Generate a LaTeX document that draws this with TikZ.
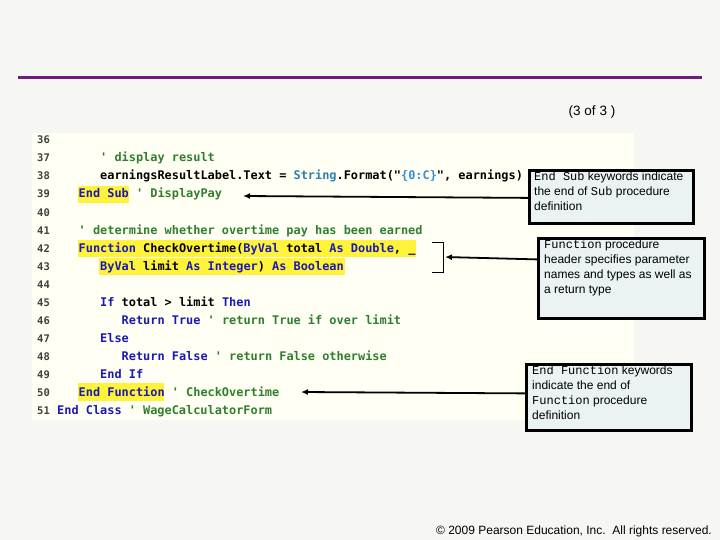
\documentclass[tikz,border=0pt]{standalone}
\usepackage{fontspec}
\setmainfont{Liberation Sans}
\newfontfamily\codefont{DejaVu Sans Mono}
\newfontfamily\cmono{Liberation Mono}
\usetikzlibrary{arrows.meta}
\definecolor{kw}{HTML}{1A1AB0}
\definecolor{cm}{HTML}{2F7F2F}
\definecolor{st}{HTML}{3A8FD0}
\definecolor{cls}{HTML}{2B7FAF}
\definecolor{hl}{HTML}{FFF23A}
\definecolor{panel}{HTML}{FFFFF3}
\definecolor{page}{HTML}{F6F6F3}
\definecolor{boxfill}{HTML}{EAF2F4}
\definecolor{rule}{HTML}{6E1E78}
\newcommand{\K}[1]{\textcolor{kw}{#1}}
\newcommand{\C}[1]{\textcolor{cm}{#1}}
\begin{document}
\begin{tikzpicture}[x=1pt,y=-1pt,
  code/.style={anchor=base west,inner sep=0,font=\codefont\bfseries\fontsize{11.9}{12}\selectfont},
  num/.style={anchor=base west,inner sep=0,text=black!75,font=\codefont\bfseries\fontsize{10.5}{12}\selectfont},
  callout/.style={draw=black,line width=2.8pt,fill=boxfill,anchor=north west,inner sep=0},
  ctext/.style={anchor=north west,align=left,inner sep=0,font=\fontsize{12}{14.8}\selectfont},
  arr/.style={line width=1.8pt,-{Latex[length=7pt,width=6pt]}}]
\useasboundingbox (0,0) rectangle (720,540);
\fill[page] (0,0) rectangle (720,540);
\draw[rule,line width=3pt] (18,78) -- (702,78);
\node (title) at (592,112) {\fontsize{13.5}{16}\selectfont (3 of 3 )};
\fill[panel] (32,133) rectangle (634,420);
% highlights
\fill[hl] (78,186) rectangle (129,203);
\fill[hl] (78,240) rectangle (416,257);
\fill[hl] (99,258) rectangle (345,275);
\fill[hl] (78,383) rectangle (164,401);
% line numbers
\foreach \n [count=\i from 0] in {36,...,51} {
  \node[num] (n\n) at (37,144+18*\i) {\n};
}
\def\cw{7.17}
\node[code] (l37) at (57+6*\cw,162) {\C{' display result}};
\node[code] (l38) at (57+6*\cw,180) {earningsResultLabel.Text = \textcolor{cls}{String}.Format("\textcolor{st}{\{0:C\}}", earnings)};
\node[code] (l39) at (57+3*\cw,198) {\K{End Sub} \C{' DisplayPay}};
\node[code] (l41) at (57+3*\cw,234) {\C{' determine whether overtime pay has been earned}};
\node[code] (l42) at (57+3*\cw,252) {\K{Function} CheckOvertime(\K{ByVal} total \K{As} \K{Double}, \_};
\node[code] (l43) at (57+6*\cw,270) {\K{ByVal} limit \K{As} \K{Integer}) \K{As} \K{Boolean}};
\node[code] (l45) at (57+6*\cw,306) {\K{If} total > limit \K{Then}};
\node[code] (l46) at (57+9*\cw,324) {\K{Return True} \C{' return True if over limit}};
\node[code] (l47) at (57+6*\cw,342) {\K{Else}};
\node[code] (l48) at (57+9*\cw,360) {\K{Return False} \C{' return False otherwise}};
\node[code] (l49) at (57+6*\cw,378) {\K{End If}};
\node[code] (l50) at (57+3*\cw,396) {\K{End Function} \C{' CheckOvertime}};
\node[code] (l51) at (57,414) {\K{End Class} \C{' WageCalculatorForm}};
% callouts
\node[callout,minimum width=164pt,minimum height=53pt] (b1) at (528,169) {};
\node[ctext] (t1) at (534,172) {{\cmono End Sub} keywords indicate\\the end of {\cmono Sub} procedure\\definition};
\node[callout,minimum width=166pt,minimum height=80pt] (b2) at (537,237) {};
\node[ctext] (t2) at (544,240) {{\cmono Function} procedure\\header specifies parameter\\names and types as well as\\a return type};
\node[callout,minimum width=165pt,minimum height=66pt] (b3) at (525,363) {};
\node[ctext] (t3) at (532,366) {{\cmono End Function} keywords\\indicate the end of\\{\cmono Function} procedure\\definition};
% bracket
\coordinate (bt) at (443,242);
\coordinate (bb) at (443,272);
\draw[line width=1pt] (432,242) -- (bt) -- (bb) -- (432,272);
\coordinate (bm) at (445,257);
\coordinate (a1) at (243,196);
\coordinate (a3) at (301,392);
\draw[arr] ([yshift=-1pt]b1.west) -- (a1);
\draw[arr] ([yshift=19pt]b2.west) -- (bm);
\draw[arr] ([yshift=4pt]b3.west) -- (a3);
\node[anchor=base east,inner sep=0] (foot) at (712,534) {\fontsize{12}{14}\selectfont \textcopyright\ 2009 Pearson Education, Inc.\ \ All rights reserved.};
\end{tikzpicture}
\end{document}
